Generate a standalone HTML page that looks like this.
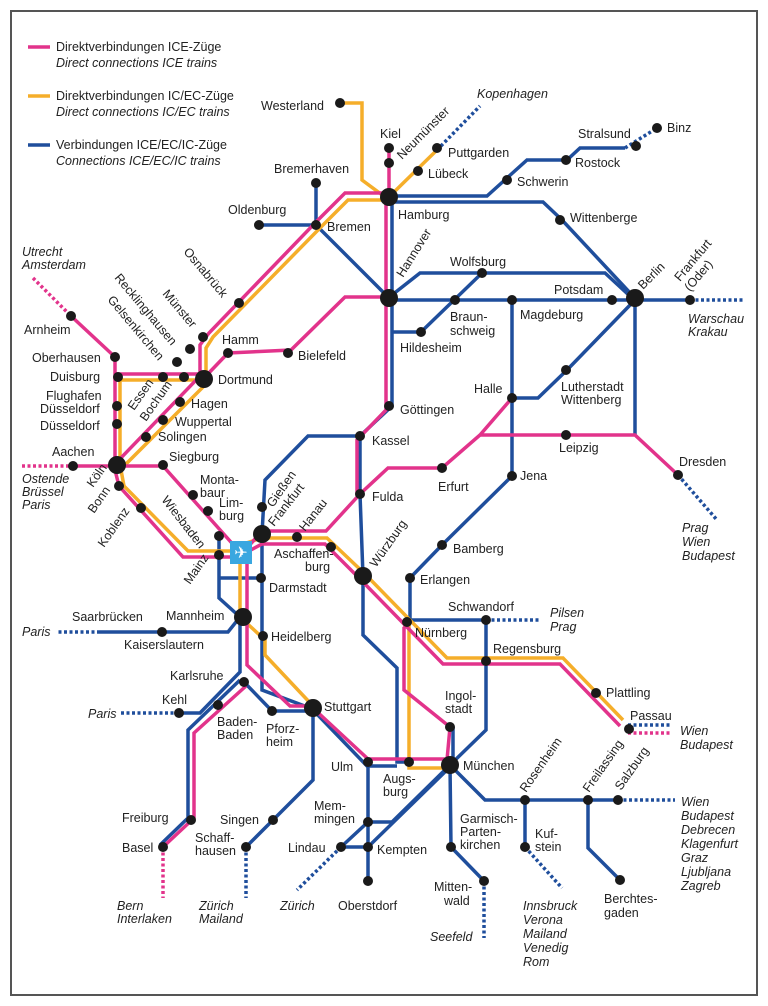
<!DOCTYPE html>
<html><head><meta charset="utf-8"><style>
body{margin:0;background:#fff}
svg{display:block}
text{font-family:"Liberation Sans",sans-serif;font-size:12.5px;fill:#222}
.i{font-style:italic}
.p{stroke:#e2338b;fill:none;stroke-width:3.5}
.y{stroke:#f5ae2a;fill:none;stroke-width:3.5}
.b{stroke:#1f4e9c;fill:none;stroke-width:3.5}
.d{stroke-dasharray:3 2.5}
</style></head><body>
<svg width="768" height="1006" viewBox="0 0 768 1006">
<rect x="11" y="11" width="746" height="984" fill="#fff" stroke="#555" stroke-width="2"/>
<!-- legend -->
<line x1="28" y1="47" x2="50" y2="47" class="p" stroke-width="4"/>
<text x="56" y="51">Direktverbindungen ICE-Züge</text><text x="56" y="67" class="i">Direct connections ICE trains</text>
<line x1="28" y1="96" x2="50" y2="96" class="y" stroke-width="4"/>
<text x="56" y="100">Direktverbindungen IC/EC-Züge</text><text x="56" y="116" class="i">Direct connections IC/EC trains</text>
<line x1="28" y1="145" x2="50" y2="145" class="b" stroke-width="4"/>
<text x="56" y="149">Verbindungen ICE/EC/IC-Züge</text><text x="56" y="165" class="i">Connections ICE/EC/IC trains</text>

<!-- BLUE -->
<g class="b">
<polyline points="389,196 487,196 507,178 527,160 567,160 580,148 625,148"/>
<polyline points="625,148 657,128" class="b d"/>
<polyline points="389,202 543,202 562,220 632,295"/>
<polyline points="392,197 392,406 360,436 360,494 363,576 363,635 397,668 397,762 409,762"/>
<polyline points="316,183 316,225 389,298"/><polyline points="259,225 316,225"/>
<polyline points="389,300 690,300"/><polyline points="690,300 745,300" class="b d"/>
<polyline points="392,295 420,273 605,273 632,298"/>
<polyline points="392,332 421,332 482,273"/>
<polyline points="512,300 512,476 442,545 410,578 410,620"/>
<polyline points="512,398 538,398 567,370 632,303"/>
<polyline points="635,300 635,435"/>
<polyline points="360,436 308,436 265,480 262,534 262,690 310,708"/>
<polyline points="219,540 219,598 240,617"/><polyline points="219,578 261,578"/>
<polyline points="240,617 228,632 100,632"/><polyline points="100,632 58,632" class="b d"/>
<polyline points="240,617 240,672 200,713 179,713"/><polyline points="179,713 120,713" class="b d"/>
<polyline points="244,682 272,711 313,711"/>
<polyline points="315,712 367,766 397,766"/>
<polyline points="313,708 313,780 246,847"/><polyline points="246,847 246,898" class="b d"/>
<polyline points="368,762 368,881"/>
<polyline points="368,822 392,822 450,765"/><polyline points="341,847 368,847 450,767"/><polyline points="341,847 368,822"/>
<polyline points="341,847 297,890" class="b d"/>
<polyline points="450,765 486,730 486,620 407,620"/><polyline points="486,620 540,620" class="b d"/>
<polyline points="453,727 453,765"/>
<polyline points="450,765 451,847 484,881"/><polyline points="484,881 484,938" class="b d"/>
<polyline points="450,765 485,800 618,800"/><polyline points="618,800 675,800" class="b d"/>
<polyline points="525,800 525,847"/><polyline points="525,847 562,888" class="b d"/>
<polyline points="588,800 588,848 620,880"/>
<polyline points="240,680 188,730 188,818 160,845"/>
<polyline points="628,725 670,725" class="b d"/>
<polyline points="437,150 480,106" class="b d"/>
</g>
<!-- YELLOW -->
<g class="y">
<polyline points="340,103 362,103 362,180 385,197"/>
<polyline points="392,194 437,150"/>
<polyline points="389,200 348,200 320,228 213,337 206,348 206,378"/>
<polyline points="208,382 122,468"/>
<polyline points="120,380 200,380"/>
<polyline points="120,377 120,468"/>
<polyline points="121,470 124,486 188,551 240,551"/>
<polyline points="240,552 240,617 265,640 265,655 313,706"/>
<polyline points="240,545 262,538 327,538 366,575 447,658 563,658 623,720"/>
<polyline points="409,622 409,768 450,768"/>
</g>
<!-- PINK -->
<g class="p">
<polyline points="389,148 389,193"/>
<polyline points="386,197 386,410 357,440 357,494"/>
<polyline points="389,193 345,193 316,222 209,333 200,345 200,375"/>
<polyline points="389,297 345,297 291,350 228,353 204,378"/>
<polyline points="200,376 117,462"/>
<polyline points="117,374 200,374"/>
<polyline points="115,357 115,468"/>
<polyline points="71,316 115,357"/><polyline points="33,278 68,313" class="p d"/>
<polyline points="73,466 117,466"/><polyline points="22,466 70,466" class="p d"/>
<polyline points="117,466 163,466 238,550"/>
<polyline points="115,470 119,486 183,557 240,557"/>
<polyline points="240,556 262,531 326,531 360,494 388,468 442,468 480,435 512,398"/>
<polyline points="480,435 635,435 678,475"/>
<polyline points="247,552 262,544 325,544 362,581 443,664 560,664 620,726"/>
<polyline points="407,625 404,628 404,690 450,727 447,760"/>
<polyline points="313,708 368,759 447,759"/>
<polyline points="247,552 247,665 290,706 313,706"/>
<polyline points="246,686 194,733 194,818 163,847"/>
<polyline points="163,847 163,898" class="p d"/>
<polyline points="628,733 670,733" class="p d"/>
</g>
<polyline points="678,475 717,520" class="b d"/>
<!-- dots -->
<g fill="#1a1a1a">
<circle cx="389" cy="197" r="9"/><circle cx="389" cy="298" r="9"/><circle cx="635" cy="298" r="9"/>
<circle cx="204" cy="379" r="9"/><circle cx="117" cy="465" r="9"/><circle cx="262" cy="534" r="9"/>
<circle cx="363" cy="576" r="9"/><circle cx="243" cy="617" r="9"/><circle cx="313" cy="708" r="9"/><circle cx="450" cy="765" r="9"/>
<g>
<circle cx="316" cy="225" r="5"/><circle cx="316" cy="183" r="5"/><circle cx="259" cy="225" r="5"/><circle cx="340" cy="103" r="5"/>
<circle cx="389" cy="148" r="5"/><circle cx="389" cy="163" r="5"/><circle cx="437" cy="148" r="5"/><circle cx="418" cy="171" r="5"/>
<circle cx="507" cy="180" r="5"/><circle cx="566" cy="160" r="5"/><circle cx="636" cy="146" r="5"/><circle cx="657" cy="128" r="5"/>
<circle cx="560" cy="220" r="5"/><circle cx="690" cy="300" r="5"/><circle cx="612" cy="300" r="5"/><circle cx="512" cy="300" r="5"/>
<circle cx="455" cy="300" r="5"/><circle cx="482" cy="273" r="5"/><circle cx="421" cy="332" r="5"/><circle cx="566" cy="370" r="5"/>
<circle cx="512" cy="398" r="5"/><circle cx="566" cy="435" r="5"/><circle cx="678" cy="475" r="5"/><circle cx="512" cy="476" r="5"/>
<circle cx="442" cy="468" r="5"/><circle cx="389" cy="406" r="5"/><circle cx="360" cy="436" r="5"/><circle cx="360" cy="494" r="5"/>
<circle cx="442" cy="545" r="5"/><circle cx="410" cy="578" r="5"/><circle cx="407" cy="622" r="5"/><circle cx="486" cy="620" r="5"/>
<circle cx="486" cy="661" r="5"/><circle cx="596" cy="693" r="5"/><circle cx="629" cy="729" r="5"/><circle cx="450" cy="727" r="5"/>
<circle cx="409" cy="762" r="5"/><circle cx="368" cy="762" r="5"/><circle cx="272" cy="711" r="5"/><circle cx="244" cy="682" r="5"/>
<circle cx="218" cy="705" r="5"/><circle cx="179" cy="713" r="5"/><circle cx="263" cy="636" r="5"/><circle cx="162" cy="632" r="5"/>
<circle cx="261" cy="578" r="5"/><circle cx="219" cy="555" r="5"/><circle cx="219" cy="536" r="5"/><circle cx="297" cy="537" r="5"/>
<circle cx="331" cy="547" r="5"/><circle cx="262" cy="507" r="5"/><circle cx="208" cy="511" r="5"/><circle cx="193" cy="495" r="5"/>
<circle cx="163" cy="465" r="5"/><circle cx="73" cy="466" r="5"/><circle cx="119" cy="486" r="5"/><circle cx="141" cy="508" r="5"/>
<circle cx="146" cy="437" r="5"/><circle cx="163" cy="420" r="5"/><circle cx="180" cy="402" r="5"/><circle cx="184" cy="377" r="5"/>
<circle cx="163" cy="377" r="5"/><circle cx="118" cy="377" r="5"/><circle cx="115" cy="357" r="5"/><circle cx="117" cy="406" r="5"/>
<circle cx="117" cy="424" r="5"/><circle cx="71" cy="316" r="5"/><circle cx="177" cy="362" r="5"/><circle cx="190" cy="349" r="5"/>
<circle cx="203" cy="337" r="5"/><circle cx="228" cy="353" r="5"/><circle cx="288" cy="353" r="5"/><circle cx="239" cy="303" r="5"/>
<circle cx="191" cy="820" r="5"/><circle cx="163" cy="847" r="5"/><circle cx="273" cy="820" r="5"/><circle cx="246" cy="847" r="5"/>
<circle cx="341" cy="847" r="5"/><circle cx="368" cy="847" r="5"/><circle cx="368" cy="822" r="5"/><circle cx="368" cy="881" r="5"/>
<circle cx="451" cy="847" r="5"/><circle cx="484" cy="881" r="5"/><circle cx="525" cy="800" r="5"/><circle cx="525" cy="847" r="5"/>
<circle cx="588" cy="800" r="5"/><circle cx="618" cy="800" r="5"/><circle cx="620" cy="880" r="5"/>
</g></g>
<rect x="230" y="541" width="22" height="23" fill="#3aa7e0"/>
<text x="241" y="558" text-anchor="middle" style="fill:#fff;font-size:16px">✈</text>
<!-- labels -->
<g>
<text x="261" y="110">Westerland</text><text x="380" y="138">Kiel</text>
<text x="402" y="160" transform="rotate(-45 402 160)">Neumünster</text>
<text x="448" y="157">Puttgarden</text><text x="428" y="178">Lübeck</text>
<text x="477" y="98" class="i">Kopenhagen</text>
<text x="274" y="173">Bremerhaven</text><text x="228" y="214">Oldenburg</text><text x="327" y="231">Bremen</text>
<text x="398" y="219">Hamburg</text><text x="517" y="186">Schwerin</text><text x="575" y="167">Rostock</text>
<text x="578" y="138">Stralsund</text><text x="667" y="132">Binz</text><text x="570" y="222">Wittenberge</text>
<text x="403" y="278" transform="rotate(-58 403 278)">Hannover</text><text x="450" y="266">Wolfsburg</text>
<text x="554" y="294">Potsdam</text><text x="520" y="319">Magdeburg</text>
<text x="450" y="321">Braun-</text><text x="450" y="335">schweig</text><text x="400" y="352">Hildesheim</text>
<text x="643" y="290" transform="rotate(-45 643 290)">Berlin</text>
<text x="680" y="282" transform="rotate(-50 680 282)">Frankfurt</text><text x="690" y="292" transform="rotate(-50 690 292)">(Oder)</text>
<text x="688" y="323" class="i">Warschau</text><text x="688" y="336" class="i">Krakau</text>
<text x="474" y="393">Halle</text><text x="561" y="391">Lutherstadt</text><text x="561" y="404">Wittenberg</text>
<text x="559" y="452">Leipzig</text><text x="679" y="466">Dresden</text><text x="520" y="480">Jena</text><text x="438" y="491">Erfurt</text>
<text x="400" y="414">Göttingen</text><text x="372" y="445">Kassel</text><text x="372" y="501">Fulda</text>
<text x="682" y="532" class="i">Prag</text><text x="682" y="546" class="i">Wien</text><text x="682" y="560" class="i">Budapest</text>
<text x="453" y="553">Bamberg</text><text x="420" y="584">Erlangen</text>
<text x="376" y="568" transform="rotate(-55 376 568)">Würzburg</text>
<text x="448" y="611">Schwandorf</text><text x="415" y="637">Nürnberg</text><text x="550" y="617" class="i">Pilsen</text><text x="550" y="631" class="i">Prag</text>
<text x="493" y="653">Regensburg</text><text x="606" y="697">Plattling</text><text x="630" y="720">Passau</text>
<text x="680" y="735" class="i">Wien</text><text x="680" y="749" class="i">Budapest</text>
<text x="445" y="700">Ingol-</text><text x="445" y="713">stadt</text><text x="463" y="770">München</text>
<text x="331" y="771">Ulm</text><text x="383" y="783">Augs-</text><text x="383" y="796">burg</text>
<text x="324" y="711">Stuttgart</text><text x="266" y="733">Pforz-</text><text x="266" y="746">heim</text>
<text x="217" y="726">Baden-</text><text x="217" y="739">Baden</text><text x="170" y="680">Karlsruhe</text>
<text x="162" y="704">Kehl</text><text x="88" y="718" class="i">Paris</text>
<text x="271" y="641">Heidelberg</text><text x="166" y="620">Mannheim</text><text x="124" y="649">Kaiserslautern</text>
<text x="72" y="621">Saarbrücken</text><text x="22" y="636" class="i">Paris</text>
<text x="269" y="592">Darmstadt</text>
<text x="190" y="585" transform="rotate(-55 190 585)">Mainz</text>
<text x="161" y="500" transform="rotate(52 161 500)">Wiesbaden</text>
<text x="274" y="527" transform="rotate(-52 274 527)">Frankfurt</text>
<text x="305" y="532" transform="rotate(-52 305 532)">Hanau</text>
<text x="273" y="508" transform="rotate(-55 273 508)">Gießen</text>
<text x="272" y="555" transform="scale(1)"> </text>
<text x="274" y="558">Aschaffen-</text><text x="305" y="571">burg</text>
<text x="219" y="507">Lim-</text><text x="219" y="520">burg</text><text x="200" y="484">Monta-</text><text x="200" y="497">baur</text>
<text x="169" y="461">Siegburg</text><text x="52" y="456">Aachen</text>
<text x="22" y="483" class="i">Ostende</text><text x="22" y="496" class="i">Brüssel</text><text x="22" y="509" class="i">Paris</text>
<text x="93" y="488" transform="rotate(-55 93 488)">Köln</text>
<text x="94" y="514" transform="rotate(-55 94 514)">Bonn</text>
<text x="104" y="548" transform="rotate(-55 104 548)">Koblenz</text>
<text x="158" y="441">Solingen</text><text x="175" y="426">Wuppertal</text><text x="191" y="408">Hagen</text>
<text x="134" y="411" transform="rotate(-55 134 411)">Essen</text>
<text x="146" y="422" transform="rotate(-55 146 422)">Bochum</text>
<text x="218" y="384">Dortmund</text><text x="222" y="344">Hamm</text><text x="298" y="360">Bielefeld</text>
<text x="50" y="381">Duisburg</text><text x="32" y="362">Oberhausen</text>
<text x="46" y="400">Flughafen</text><text x="40" y="413">Düsseldorf</text><text x="40" y="430">Düsseldorf</text>
<text x="24" y="334">Arnheim</text>
<text x="22" y="256" class="i">Utrecht</text><text x="22" y="269" class="i">Amsterdam</text>
<text x="183" y="252" transform="rotate(50 183 252)">Osnabrück</text>
<text x="162" y="294" transform="rotate(50 162 294)">Münster</text>
<text x="114" y="278" transform="rotate(50 114 278)">Recklinghausen</text>
<text x="107" y="300" transform="rotate(50 107 300)">Gelsenkirchen</text>
<text x="122" y="822">Freiburg</text><text x="122" y="852">Basel</text>
<text x="220" y="824">Singen</text><text x="195" y="842">Schaff-</text><text x="195" y="855">hausen</text>
<text x="117" y="910" class="i">Bern</text><text x="117" y="923" class="i">Interlaken</text>
<text x="199" y="910" class="i">Zürich</text><text x="199" y="923" class="i">Mailand</text>
<text x="280" y="910" class="i">Zürich</text><text x="338" y="910">Oberstdorf</text>
<text x="314" y="810">Mem-</text><text x="314" y="823">mingen</text><text x="288" y="852">Lindau</text><text x="377" y="854">Kempten</text>
<text x="460" y="823">Garmisch-</text><text x="460" y="836">Parten-</text><text x="460" y="849">kirchen</text>
<text x="434" y="891">Mitten-</text><text x="444" y="905">wald</text><text x="430" y="941" class="i">Seefeld</text>
<text x="535" y="838">Kuf-</text><text x="535" y="851">stein</text>
<text x="523" y="910" class="i">Innsbruck</text><text x="523" y="924" class="i">Verona</text><text x="523" y="938" class="i">Mailand</text><text x="523" y="952" class="i">Venedig</text><text x="523" y="966" class="i">Rom</text>
<text x="604" y="903">Berchtes-</text><text x="604" y="917">gaden</text>
<text x="526" y="793" transform="rotate(-55 526 793)">Rosenheim</text>
<text x="589" y="793" transform="rotate(-55 589 793)">Freilassing</text>
<text x="621" y="791" transform="rotate(-55 621 791)">Salzburg</text>
<text x="681" y="806" class="i">Wien</text><text x="681" y="820" class="i">Budapest</text><text x="681" y="834" class="i">Debrecen</text><text x="681" y="848" class="i">Klagenfurt</text><text x="681" y="862" class="i">Graz</text><text x="681" y="876" class="i">Ljubljana</text><text x="681" y="890" class="i">Zagreb</text>
</g>
</svg>
</body></html>
